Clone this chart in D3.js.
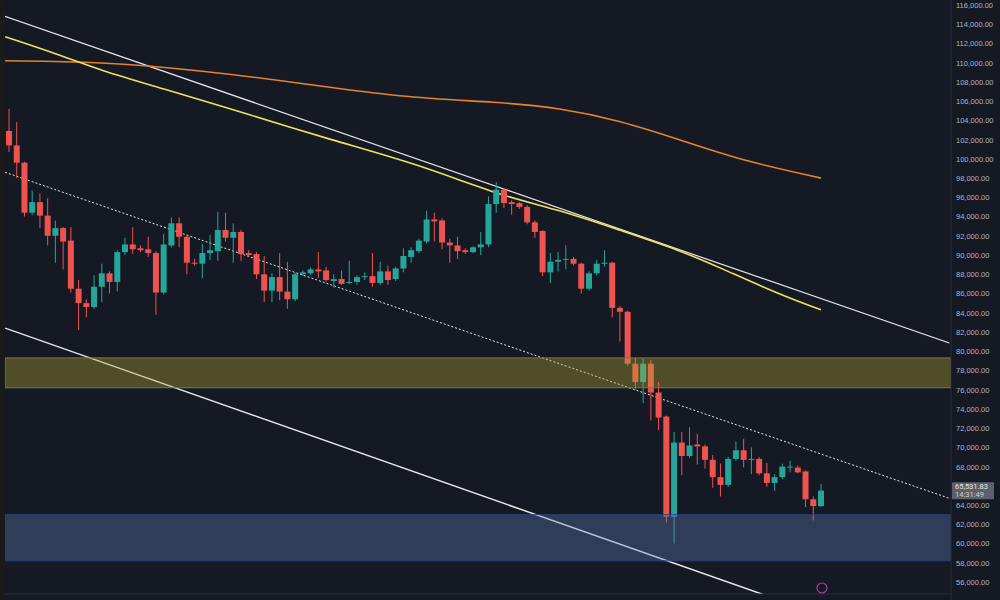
<!DOCTYPE html>
<html>
<head>
<meta charset="utf-8">
<script src="https://d3js.org/d3.v7.min.js"></script>
<style>
  body { margin: 0; background: #1b1b1c; }
</style>
</head>
<body>
<div id="graph"></div>
<script>
// OHLC in thousands of USD, one candle per day
var opens  = [102.9,101.4,99.6,94.4,95.5,94.1,92.0,92.8,91.5,86.5,85.0,84.6,86.7,88.1,87.2,90.3,91.1,90.7,90.6,90.2,86.1,91.0,93.3,91.9,89.2,89.1,90.2,90.4,92.6,91.8,92.4,90.2,90.1,88.0,86.3,87.7,86.2,85.4,88.0,88.1,88.5,88.4,87.3,87.5,87.1,87.2,87.7,87.8,87.1,88.3,87.5,88.6,89.8,90.4,91.4,93.7,93.6,91.3,91.0,90.5,90.3,90.8,91.1,95.3,96.8,95.5,95.4,95.0,93.4,92.5,88.2,89.3,89.5,89.6,89.1,86.5,88.1,89.1,89.2,84.5,84.1,78.7,76.8,78.7,75.7,73.2,62.8,70.5,69.1,70.3,70.1,68.7,66.9,66.1,68.8,69.7,68.7,68.8,67.3,66.3,66.9,68.0,67.9,67.5,64.6,63.9];
var closes = [101.4,99.6,94.4,95.5,94.1,92.0,92.8,91.4,86.5,85.0,84.6,86.7,88.1,87.2,90.3,91.1,90.6,90.5,90.2,86.1,91.1,93.3,91.9,89.2,89.1,90.2,90.5,92.6,91.8,92.4,90.1,90.0,88.0,86.3,87.7,86.2,85.4,88.0,88.2,88.5,88.3,87.4,87.5,87.0,87.2,87.7,87.8,87.1,88.3,87.4,88.6,89.9,90.5,91.5,93.7,93.5,91.3,91.0,90.4,90.3,90.8,91.1,95.3,96.8,95.4,95.3,95.0,93.4,92.4,88.2,89.3,89.5,89.6,89.1,86.5,88.1,89.1,89.2,84.5,84.1,78.7,76.8,78.7,75.7,73.1,62.8,70.5,69.1,70.2,70.1,68.7,66.9,66.1,68.8,69.7,68.7,68.8,67.3,66.3,66.9,68.0,68.0,67.4,64.6,63.9,65.5];
var highs  = [105.2,103.8,99.7,96.7,96.4,95.9,93.6,92.9,92.9,87.4,85.4,87.9,89.1,88.3,90.5,91.8,92.9,91.0,91.9,90.4,92.2,93.9,93.9,92.0,89.6,91.2,92.1,94.5,94.4,93.3,92.6,90.5,90.3,89.9,88.1,90.2,89.3,88.2,88.4,88.7,90.3,88.8,88.0,88.4,89.4,87.9,88.2,90.2,89.3,88.9,88.8,90.7,90.8,91.7,94.6,94.4,93.8,91.7,91.9,90.7,90.9,92.4,96.1,97.6,96.9,95.7,95.5,95.2,93.6,92.6,90.2,90.3,91.0,89.8,89.2,88.3,89.5,90.5,89.3,84.7,84.2,79.3,79.2,79.1,76.8,73.3,71.6,71.6,72.1,71.4,70.3,69.2,68.3,69.0,70.6,70.9,70.0,69.0,68.4,67.2,68.3,68.6,68.1,67.6,64.9,66.2];
var lows   = [100.7,98.0,94.0,94.2,92.8,91.0,89.2,88.5,86.1,82.2,83.5,84.4,85.1,86.0,86.2,90.0,90.1,90.3,89.8,83.8,85.9,90.8,90.8,88.0,88.9,87.6,89.5,89.4,91.4,89.2,89.4,89.8,87.5,85.1,85.1,85.3,84.4,85.2,87.8,87.9,87.6,87.2,86.6,86.9,87.0,86.9,87.4,86.7,86.9,86.9,87.3,88.2,89.2,90.2,91.2,91.4,90.6,89.2,89.6,90.1,90.2,90.0,90.8,94.4,94.9,94.2,94.8,93.2,91.8,87.8,87.1,88.3,88.5,88.9,86.0,86.3,87.9,88.8,83.5,81.0,78.5,76.0,74.6,72.8,71.8,62.2,60.0,67.1,68.9,68.2,67.8,65.8,64.9,65.9,68.6,67.9,67.2,67.1,65.9,65.5,66.7,67.4,67.3,63.8,62.4,63.8];

// moving averages as (candle index, price)
var ma50  = [[-0.5,112.7],[6.6,110.8],[11.8,109.2],[19.5,107.4],[31.1,104.6],[41.5,102.0],[53.1,99.4],[63.4,96.2],[71.2,94.7],[78.9,92.6],[86.7,90.5],[91.9,88.7],[99.6,85.9],[105,84.3]];
var ma200 = [[-0.5,110.2],[11.8,110.1],[24.7,109.2],[37.6,107.9],[50.5,106.4],[63.4,105.9],[71.2,105.3],[78.9,104.0],[86.7,102.0],[94.4,99.9],[105,98.0]];

// trend lines [x0, p0, x1, p1]
var channelTop = [-1.2, 115.0, 121.6, 80.85];
var channelMid = [-0.5, 98.6, 121.6, 64.7];
var channelBot = [-0.5, 82.4, 97.7, 54.65];

var zones = [
  { lo: 76.2, hi: 79.3, fill: "rgba(175,165,50,0.38)", stroke: "#7d7a3a" },
  { lo: 58.2, hi: 63.0, fill: "rgba(100,130,190,0.35)", stroke: "#2a3f7a" }
];

var yTicks = d3.range(56, 117, 2);
var lastPrice = "65,531.83", countdown = "14:31:49";

var W = 1000, H = 600, plotL = 5, plotR = 951, plotB = 594;

var svg = d3.select("#graph").append("svg")
  .attr("width", W).attr("height", H)
  .style("font-family", "Roboto, 'Liberation Sans', sans-serif");

svg.append("rect").attr("width", W).attr("height", H).attr("fill", "#1a1a1b");
svg.append("rect").attr("x", plotL).attr("width", W - plotL).attr("height", H).attr("fill", "#151924");

var x = d3.scaleLinear().domain([0, 105]).range([9, 821]);
var y = d3.scaleLinear().domain([56, 116]).range([582, 5]);

var plot = svg.append("g");
plot.append("clipPath").attr("id", "clip").append("rect")
  .attr("x", plotL).attr("y", 0).attr("width", plotR - plotL).attr("height", plotB);
plot.attr("clip-path", "url(#clip)");

// trend lines
function trend(l, dash, w) {
  plot.append("line")
    .attr("x1", x(l[0])).attr("y1", y(l[1]))
    .attr("x2", x(l[2])).attr("y2", y(l[3]))
    .attr("stroke", "#e8e8e8").attr("stroke-width", w)
    .attr("stroke-dasharray", dash);
}
trend(channelTop, null, 1.2);
trend(channelBot, null, 1.5);
trend(channelMid, "2,2", 1);

// moving averages
var line = d3.line().curve(d3.curveBasis)
  .x(function (d) { return x(d[0]); })
  .y(function (d) { return y(d[1]); });
plot.append("path").datum(ma200).attr("d", line).attr("fill", "none")
  .attr("stroke", "#e8832a").attr("stroke-width", 1.6);
plot.append("path").datum(ma50).attr("d", line).attr("fill", "none")
  .attr("stroke", "#f0e25a").attr("stroke-width", 1.6);

// candles
var up = "#26a69a", down = "#ef5350";
var candles = plot.selectAll(".c").data(opens).enter().append("g");
candles.append("line")
  .attr("x1", function (d, i) { return x(i); })
  .attr("x2", function (d, i) { return x(i); })
  .attr("y1", function (d, i) { return y(highs[i]); })
  .attr("y2", function (d, i) { return y(lows[i]); })
  .attr("stroke", function (d, i) { return closes[i] >= d ? up : down; })
  .attr("stroke-width", 1);
candles.append("rect")
  .attr("x", function (d, i) { return x(i) - 3; })
  .attr("width", 6)
  .attr("y", function (d, i) { return y(Math.max(d, closes[i])); })
  .attr("height", function (d, i) { return Math.max(1, Math.abs(y(d) - y(closes[i]))); })
  .attr("fill", function (d, i) { return closes[i] >= d ? up : down; });

// zones drawn over the candles, semi-transparent
plot.selectAll(".zone").data(zones).enter().append("rect")
  .attr("x", plotL).attr("width", plotR - plotL)
  .attr("y", function (d) { return y(d.hi); })
  .attr("height", function (d) { return y(d.lo) - y(d.hi); })
  .attr("fill", function (d) { return d.fill; })
  .attr("stroke", function (d) { return d.stroke; });

// axes
svg.append("line").attr("x1", plotR).attr("x2", plotR).attr("y1", 0).attr("y2", H)
  .attr("stroke", "#2a2e39");
svg.append("line").attr("x1", plotL).attr("x2", plotR).attr("y1", plotB).attr("y2", plotB)
  .attr("stroke", "#2a2e39");

var yAxis = d3.axisRight(y).tickValues(yTicks).tickSize(0).tickPadding(5)
  .tickFormat(function (d) { return d3.format(",.2f")(d * 1000); });
var ga = svg.append("g").attr("transform", "translate(" + plotR + ",0)").call(yAxis);
ga.select(".domain").remove();
ga.selectAll("text").attr("fill", "#b2b5be").attr("font-size", 7.5);

// last price label
var ly = y(65.5317);
svg.append("rect").attr("x", plotR + 1).attr("y", ly - 8).attr("width", 42).attr("height", 17)
  .attr("fill", "#5d606b").attr("rx", 1);
svg.append("text").attr("x", plotR + 4).attr("y", ly - 1).text(lastPrice)
  .attr("fill", "#e8e8e8").attr("font-size", 7.5);
svg.append("text").attr("x", plotR + 4).attr("y", ly + 7).text(countdown)
  .attr("fill", "#d0d0d0").attr("font-size", 7.5);

// small icon near the bottom
svg.append("circle").attr("cx", 822).attr("cy", 588).attr("r", 5)
  .attr("fill", "none").attr("stroke", "#b03aa0").attr("stroke-width", 1.2);
</script>
</body>
</html>
